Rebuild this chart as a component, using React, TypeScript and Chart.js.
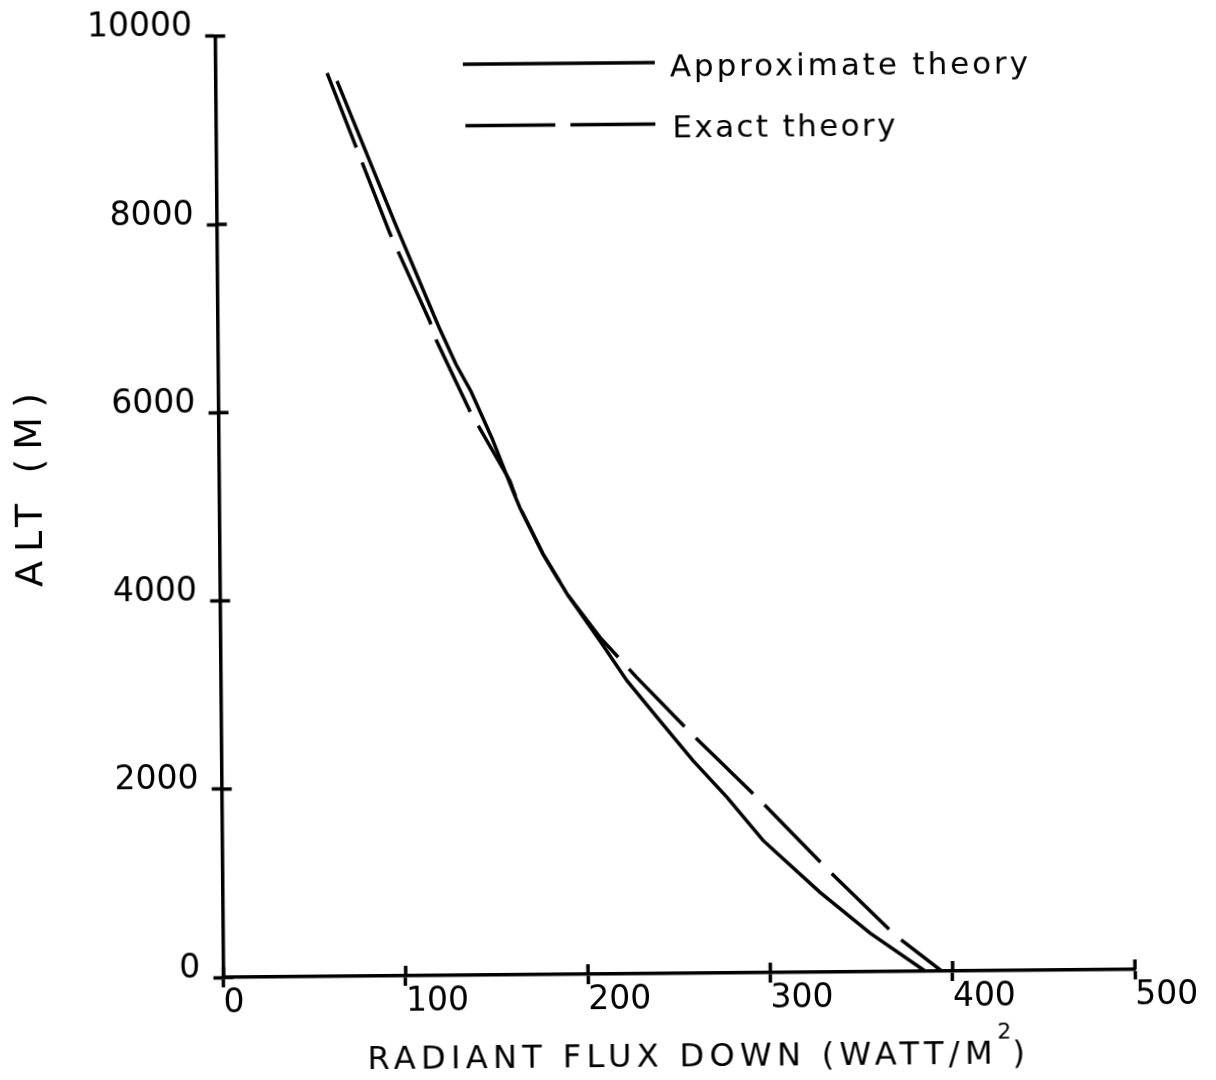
import React, { useEffect, useRef } from "react";
import { Chart, registerables } from "chart.js";

Chart.register(...registerables);

// ---- data ----
const xTickValues = [0, 100, 200, 300, 400, 500];
const yTickValues = [0, 2000, 4000, 6000, 8000, 10000];

const seriesNames = ["Approximate theory", "Exact theory"];

// Approximate theory (solid line): radiant flux (W/m2) vs altitude (m)
const approxFlux = [66.6, 98.3, 115.5, 121.9, 130.5, 138.6, 149.9, 159.4, 161.1, 164.9, 177.3, 190.3, 208.1, 222.8, 240.6, 258.5, 277.1, 296.6, 304.3, 327.6, 354.9, 385];
const approxAlt = [9513, 7970, 7161, 6863, 6491, 6203, 5703, 5225, 5140, 4959, 4469, 4043, 3541, 3114, 2687, 2261, 1866, 1406, 1267, 849, 410, 0];

// Exact theory (dashed line)
const exactFlux = [61.2, 94.9, 116.4, 119.7, 138.0, 159.6, 161.5, 165.0, 177.3, 190.3, 208.2, 228.1, 258.0, 296.1, 331.4, 368.6, 394];
const exactAlt = [9598, 7888, 6949, 6754, 5991, 5246, 5140, 4959, 4469, 4043, 3577, 3149, 2544, 1813, 1100, 387, 0];

const xTitle = "RADIANT FLUX DOWN (WATT/M";
const xTitleSup = "2";
const xTitleEnd = ")";
const yTitle = "ALT (M)";

const FONT = '"DejaVu Sans", sans-serif';
const LINE_W = 3.5;

function drawSpaced(ctx: CanvasRenderingContext2D, text: string, x: number, y: number, target: number) {
  (ctx as any).letterSpacing = "0px";
  const w = ctx.measureText(text).width;
  const n = Array.from(text).length;
  const sp = n > 1 ? (target - w) / (n - 1) : 0;
  (ctx as any).letterSpacing = sp + "px";
  ctx.fillText(text, x, y);
  (ctx as any).letterSpacing = "0px";
}

const innerTicks = {
  id: "innerTicks",
  afterDraw(chart: any) {
    const { ctx, scales, chartArea } = chart;
    const x = scales.x;
    const y = scales.y;
    ctx.save();
    ctx.strokeStyle = "#000";
    ctx.lineWidth = LINE_W;
    ctx.beginPath();
    x.ticks.forEach((t: any) => {
      const px = x.getPixelForValue(t.value);
      ctx.moveTo(px, chartArea.bottom);
      ctx.lineTo(px, chartArea.bottom - 10);
    });
    y.ticks.forEach((t: any) => {
      const py = y.getPixelForValue(t.value);
      ctx.moveTo(chartArea.left, py);
      ctx.lineTo(chartArea.left + 10, py);
    });
    ctx.stroke();
    ctx.restore();
  },
};

const decorations = {
  id: "decorations",
  afterDraw(chart: any) {
    const ctx: CanvasRenderingContext2D = chart.ctx;
    ctx.save();
    ctx.fillStyle = "#000";
    ctx.strokeStyle = "#000";
    ctx.textAlign = "left";
    ctx.textBaseline = "alphabetic";

    // legend
    ctx.lineWidth = LINE_W;
    ctx.setLineDash([]);
    ctx.beginPath();
    ctx.moveTo(467, 63);
    ctx.lineTo(659, 63);
    ctx.stroke();
    ctx.setLineDash([90, 15]);
    ctx.beginPath();
    ctx.moveTo(469, 124.5);
    ctx.lineTo(659, 124.5);
    ctx.stroke();
    ctx.setLineDash([]);

    ctx.font = `31px ${FONT}`;
    drawSpaced(ctx, seriesNames[0], 674, 77, 358);
    drawSpaced(ctx, seriesNames[1], 676, 138, 223);

    // x title
    ctx.font = `32px ${FONT}`;
    drawSpaced(ctx, xTitle, 363, 1067, 625);
    ctx.font = `22px ${FONT}`;
    ctx.fillText(xTitleSup, 993, 1042);
    ctx.font = `32px ${FONT}`;
    ctx.fillText(xTitleEnd, 1008, 1067);

    // y title
    ctx.font = `38px ${FONT}`;
    ctx.translate(28.4 + 14, 485);
    ctx.rotate(-Math.PI / 2);
    drawSpaced(ctx, yTitle, -97, 0, 194);
    ctx.restore();
  },
};

export default function App() {
  const ref = useRef<HTMLCanvasElement>(null);
  useEffect(() => {
    if (!ref.current) return;
    const chart = new Chart(ref.current, {
      type: "scatter",
      data: {
        datasets: [
          {
            label: seriesNames[0],
            data: approxFlux.map((x, i) => ({ x, y: approxAlt[i] })),
            showLine: true,
            borderColor: "#000",
            backgroundColor: "#000",
            borderWidth: LINE_W,
            pointRadius: 0,
            pointHoverRadius: 0,
            tension: 0,
          },
          {
            label: seriesNames[1],
            data: exactFlux.map((x, i) => ({ x, y: exactAlt[i] })),
            showLine: true,
            borderColor: "#000",
            backgroundColor: "#000",
            borderWidth: LINE_W,
            borderDash: [80, 16],
            pointRadius: 0,
            pointHoverRadius: 0,
            tension: 0,
          },
        ],
      },
      options: {
        animation: false,
        responsive: false,
        devicePixelRatio: 1,
        events: [],
        layout: { padding: { left: 0, top: 30.6, right: 84.8, bottom: 0 } },
        plugins: {
          legend: { display: false },
          tooltip: { enabled: false },
          title: { display: false },
        },
        scales: {
          x: {
            type: "linear",
            min: xTickValues[0],
            max: xTickValues[xTickValues.length - 1],
            afterBuildTicks: (s: any) => {
              s.ticks = xTickValues.map((v) => ({ value: v }));
            },
            grid: { display: true, drawOnChartArea: false, drawTicks: true, tickLength: 10, tickWidth: LINE_W, tickColor: "#000" },
            border: { display: true, color: "#000", width: LINE_W },
            ticks: {
              color: "#000",
              font: { family: FONT, size: 33 },
              padding: -3,
              align: "start",
              maxRotation: 0,
              autoSkip: false,
              callback: (v: any) => String(v),
            },
            afterFit: (s: any) => {
              s.height = 106;
            },
          },
          y: {
            type: "linear",
            min: yTickValues[0],
            max: yTickValues[yTickValues.length - 1],
            afterBuildTicks: (s: any) => {
              s.ticks = yTickValues.map((v) => ({ value: v }));
            },
            grid: { display: true, drawOnChartArea: false, drawTicks: true, tickLength: 10, tickWidth: LINE_W, tickColor: "#000" },
            border: { display: true, color: "#000", width: LINE_W },
            ticks: {
              color: "#000",
              font: { family: FONT, size: 33 },
              padding: 13,
              labelOffset: -9,
              autoSkip: false,
              callback: (v: any) => String(v),
            },
            afterFit: (s: any) => {
              s.width = 219.6;
            },
          },
        },
      } as any,
      plugins: [innerTicks, decorations],
    });
    return () => chart.destroy();
  }, []);

  return (
    <div
      style={{
        position: "fixed",
        left: 0,
        top: 0,
        width: 1216,
        height: 1080,
        background: "#fff",
        transform: "rotate(-0.5deg)",
        transformOrigin: "608px 540px",
      }}
    >
      <canvas ref={ref} width={1216} height={1080} style={{ display: "block", width: 1216, height: 1080 }} />
    </div>
  );
}
